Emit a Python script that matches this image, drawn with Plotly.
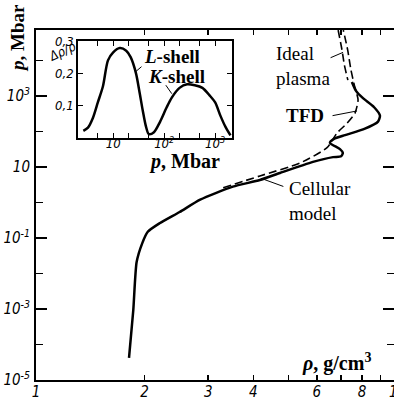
import math
import plotly.graph_objects as go

# ---------------- data ----------------
# Cellular model (solid), density g/cm3 vs pressure Mbar
cell_rho = [1.81, 1.86, 1.90, 1.97, 2.04, 2.20, 2.50, 2.85, 3.51, 4.17, 4.74, 5.85,
            6.65, 7.00, 7.08, 6.95, 6.52, 6.69, 7.18, 8.15, 8.86, 8.97, 8.63, 8.05,
            7.70, 7.50]
cell_p = [4.2e-5, 9.3e-4, 0.021, 0.072, 0.15, 0.26, 0.54, 1.2, 2.8, 4.3, 6.8, 14,
          19, 20, 25, 32, 48, 62, 79, 120, 190, 280, 490, 870, 1400, 2500]

# TFD (dashed)
tfd_rho = [3.30, 4.17, 5.39, 6.40, 6.82, 7.27, 7.65, 7.80, 7.62, 7.45, 7.30, 7.10]
tfd_p = [2.6, 5.6, 13, 35, 91, 170, 330, 780, 2000, 5600, 20000, 72000]

# Ideal plasma (dashed)
ideal_rho = [6.87, 7.04, 7.15, 7.31]
ideal_p = [72000, 20000, 7400, 2800]

# Inset: shell effect, pressure Mbar vs delta rho / rho
inset_p = [2.6, 3.2, 4.0, 5.0, 6.3, 7.9, 10, 13.5, 18, 22, 28, 33, 38, 44, 50, 63,
           83, 112, 141, 200, 282, 398, 562, 794, 1000, 1259, 1585, 1995]
inset_d = [0.022, 0.032, 0.062, 0.11, 0.16, 0.24, 0.265, 0.278, 0.27, 0.25, 0.20,
           0.14, 0.085, 0.035, 0.012, 0.018, 0.05, 0.095, 0.125, 0.155, 0.166,
           0.163, 0.155, 0.13, 0.11, 0.07, 0.035, 0.008]

x_ticks = [1, 2, 3, 4, 6, 8]
x_ticktext = ["<i>1</i>", "<i>2</i>", "<i>3</i>", "<i>4</i>", "<i>6</i>", "<i>8</i>"]
x_minor = [5, 7, 9]
y_ticks = [1e-5, 1e-3, 1e-1, 10, 1e3]
y_ticktext = ["<i>10<sup>-5</sup></i>", "<i>10<sup>-3</sup></i>", "<i>10<sup>-1</sup></i>",
              "<i>10</i>", "<i>10<sup>3</sup></i>"]
y_minor = [1e-4, 1e-2, 1, 100, 1e4]
ix_ticks = [10, 100, 1000]
ix_ticktext = ["<i>10</i>", "<i>10<sup>2</sup></i>", "<i>10<sup>3</sup></i>"]
ix_minor = [5, 20, 50, 200, 500]
iy_ticks = [0.1, 0.2, 0.3]
iy_ticktext = ["<i>0,1</i>", "<i>0,2</i>", "<i>0,3</i>"]

# ---------------- figure ----------------
W, H = 394, 401
L, R, T, B = 36, 0, 30, 21
PW, PH = W - L - R, H - T - B


def px(x):
    return (x - L) / PW


def py(y):
    return (H - B - y) / PH


tickfont = dict(family="Liberation Sans Narrow, DejaVu Sans Condensed, DejaVu Sans, sans-serif",
                size=15, color="black", style="italic")
labfont = dict(family="Liberation Serif, DejaVu Serif, Times New Roman, serif",
               size=19, color="black")

fig = go.Figure()
fig.add_trace(go.Scatter(x=cell_rho, y=cell_p, mode="lines",
                         line=dict(color="black", width=2.5, shape="spline", smoothing=0.6),
                         xaxis="x", yaxis="y", showlegend=False, hoverinfo="skip"))
fig.add_trace(go.Scatter(x=tfd_rho, y=tfd_p, mode="lines",
                         line=dict(color="black", width=1.6, dash="8px,4px",
                                   shape="spline", smoothing=0.6),
                         xaxis="x", yaxis="y", showlegend=False, hoverinfo="skip"))
fig.add_trace(go.Scatter(x=ideal_rho, y=ideal_p, mode="lines",
                         line=dict(color="black", width=1.6, dash="8px,4px",
                                   shape="spline", smoothing=0.6),
                         xaxis="x", yaxis="y", showlegend=False, hoverinfo="skip"))
fig.add_trace(go.Scatter(x=inset_p, y=inset_d, mode="lines",
                         line=dict(color="black", width=2.5, shape="spline", smoothing=0.8),
                         xaxis="x2", yaxis="y2", showlegend=False, hoverinfo="skip"))

axis_common = dict(showline=True, linecolor="black", mirror="allticks", showgrid=False,
                   zeroline=False, ticks="inside", tickcolor="black", automargin=False)

fig.update_layout(
    template="none",
    width=W, height=H,
    margin=dict(l=L, r=R, t=T, b=B, pad=0, autoexpand=False),
    paper_bgcolor="white", plot_bgcolor="white",
    xaxis=dict(type="log", range=[0, (W - R - L) / 361], domain=[0, 1],
               tickvals=x_ticks, ticktext=x_ticktext, ticklen=5, tickwidth=1.5,
               linewidth=2, tickfont=tickfont, ticklabelstandoff=-3,
               minor=dict(tickvals=x_minor, ticks="inside", ticklen=5, tickwidth=1.5,
                          tickcolor="black", showgrid=False),
               **axis_common),
    yaxis=dict(type="log", range=[-5, 4.86], domain=[0, 1],
               tickvals=y_ticks, ticktext=y_ticktext, ticklen=11, tickwidth=1.5,
               linewidth=2, tickfont=tickfont, ticklabelstandoff=1,
               minor=dict(tickvals=y_minor, ticks="inside", ticklen=7, tickwidth=1.5,
                          tickcolor="black", showgrid=False),
               **axis_common),
    xaxis2=dict(type="log", range=[0.31, 3.33], domain=[px(78), px(232)], anchor="y2",
                tickvals=ix_ticks, ticktext=ix_ticktext, ticklen=5, tickwidth=1.2,
                linewidth=1.8, tickfont=dict(tickfont, size=13), ticklabelstandoff=-7,
                minor=dict(tickvals=ix_minor, ticks="inside", ticklen=5, tickwidth=1.2,
                           tickcolor="black", showgrid=False),
                **axis_common),
    yaxis2=dict(range=[0, 0.3], domain=[py(138), py(41)], anchor="x2",
                tickvals=iy_ticks, ticktext=iy_ticktext, ticklen=5, tickwidth=1.2,
                linewidth=1.8, tickfont=dict(tickfont, size=13), ticklabelstandoff=0,
                **axis_common),
)

ann = []


def text(x, y, s, size=19, bold=False, xanchor="left", angle=0, font=None):
    f = dict(font or labfont)
    f["size"] = size
    if bold:
        f["weight"] = "bold"
    ann.append(dict(xref="paper", yref="paper", x=px(x), y=py(y), text=s, showarrow=False,
                    xanchor=xanchor, yanchor="middle", align="left", font=f,
                    textangle=angle))


text(274, 66, "Ideal<br>plasma")
text(284, 115, "TFD", bold=True)
text(287, 201, "Cellular<br>model")
text(300, 362, "<i>ρ</i>, g/cm<sup>3</sup>", size=20, bold=True)
text(17, 38, "<i>p</i>, Mbar", bold=True, xanchor="center", angle=-90)
text(142, 56, "<i>L</i>-shell", bold=True)
text(146, 76, "<i>K</i>-shell", bold=True)
text(147, 161, "<i>p</i>, Mbar", size=20, bold=True)
text(62, 51, "<i>Δρ/ρ</i>", size=13, xanchor="center", angle=-25, font=tickfont)
text(397, 392, "<i>10</i>", size=15, xanchor="center", font=tickfont)


def leader(xr, yr, x, y, ax, ay):
    ann.append(dict(xref=xr, yref=yr, x=x, y=y, ax=ax, ay=ay, text="", showarrow=True,
                    arrowhead=0, arrowwidth=1, arrowcolor="black"))


leader("x", "y", math.log10(7.09), math.log10(17000), -14, 6)
leader("x", "y", math.log10(7.75), math.log10(380), -26, 5)
leader("x", "y", math.log10(4.25), math.log10(4.6), 22, 8)
leader("x2", "y2", math.log10(28), 0.206, 7, -6)
leader("x2", "y2", math.log10(141), 0.137, -7, -10)

fig.update_layout(annotations=ann, hovermode=False, dragmode=False)
fig.write_html("out.html", config={"displayModeBar": False, "staticPlot": True},
               post_script="document.body.style.margin='0';document.body.style.overflow='hidden';")
